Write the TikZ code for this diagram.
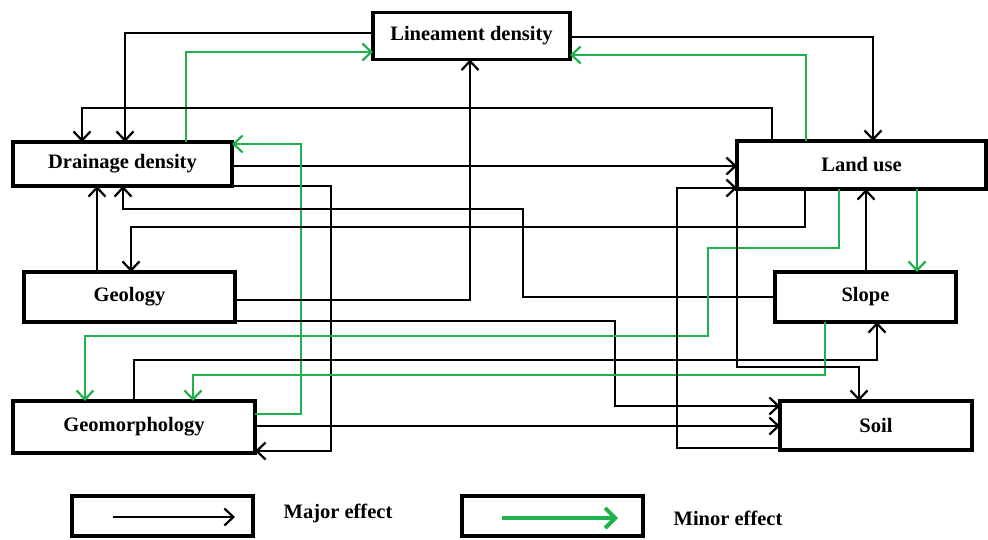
\documentclass[tikz,border=0pt]{standalone}
\usepackage{fontspec}
\setmainfont{Liberation Serif}
\usetikzlibrary{arrows.meta}
\definecolor{mygreen}{RGB}{30,178,76}
\begin{document}
\begin{tikzpicture}[x=1pt,y=-1pt,
  box/.style={draw, line width=3.4pt, inner sep=0pt, outer sep=0pt,
    font=\bfseries\fontsize{20.5}{24}\selectfont},
  maj/.style={line width=2.2pt, line join=miter,
    -{Straight Barb[length=9pt,width=17pt,line width=2.2pt]}},
  mn/.style={maj, draw=mygreen},
  lbl/.style={font=\bfseries\fontsize{20.5}{24}\selectfont, inner sep=0pt}]
\useasboundingbox (0,0) rectangle (988,539);
% nodes
\node[box, minimum width=197pt, minimum height=47pt] (ld) at (471.5,36) {Lineament density};
\node[box, minimum width=219pt, minimum height=44pt] (dd) at (122.5,164) {Drainage density};
\node[box, minimum width=249pt, minimum height=48pt] (lu) at (861.5,165) {Land use};
\node[box, minimum width=211pt, minimum height=50pt] (geo) at (129.5,297) {Geology};
\node[box, minimum width=181pt, minimum height=50pt] (sl) at (865.5,297) {Slope};
\node[box, minimum width=242pt, minimum height=52pt] (gm) at (134,427) {Geomorphology};
\node[box, minimum width=192pt, minimum height=49pt] (soil) at (876,425.5) {Soil};
% connectors
\draw[maj] (ld.west |- 0,33) -- (125,33) -- (125,0 |- dd.north);
\draw[mn] (186,0 |- dd.north) -- (186,52) -- (ld.west |- 0,52);
\draw[maj] (772,0 |- lu.north) -- (772,108) -- (82,108) -- (82,0 |- dd.north);
\draw[maj] (ld.east |- 0,37) -- (873,37) -- (873,0 |- lu.north);
\draw[mn] (806,0 |- lu.north) -- (806,55) -- (ld.east |- 0,55);
\draw[maj] (dd.east |- 0,166) -- (lu.west |- 0,166);
\draw[maj] (dd.east |- 0,186) -- (331,186) -- (331,451) -- (gm.east |- 0,451);
\draw[mn] (gm.east |- 0,414) -- (301,414) -- (301,144) -- (dd.east |- 0,144);
\draw[maj] (sl.west) -- (523,297) -- (523,209) -- (123,209) -- (123,0 |- dd.south);
\draw[maj] (805,0 |- lu.south) -- (805,227) -- (131,227) -- (131,0 |- geo.north);
\draw[maj] (97,0 |- geo.north) -- (97,0 |- dd.south);
\draw[maj] (geo.east |- 0,300) -- (470,300) -- (470,0 |- ld.south);
\draw[maj] (geo.east |- 0,321) -- (615,321) -- (615,406) -- (soil.west |- 0,406);
\draw[mn] (839,0 |- lu.south) -- (839,248) -- (708,248) -- (708,336) -- (85,336) -- (85,0 |- gm.north);
\draw[maj] (134,0 |- gm.north) -- (134,360) -- (877,360) -- (877,0 |- sl.south);
\draw[mn] (825,0 |- sl.south) -- (825,375) -- (193,375) -- (193,0 |- gm.north);
\draw[maj] (737,0 |- lu.south) -- (737,367) -- (859,367) -- (859,0 |- soil.north);
\draw[maj] (soil.west |- 0,448) -- (677,448) -- (677,188) -- (lu.west |- 0,188);
\draw[maj] (gm.east |- 0,426) -- (soil.west |- 0,426);
\draw[maj] (866,0 |- sl.north) -- (866,0 |- lu.south);
\draw[mn] (917,0 |- lu.south) -- (917,0 |- sl.north);
% legend
\node[box, minimum width=181pt, minimum height=40pt] (lg1) at (162.5,516) {};
\node[box, minimum width=181pt, minimum height=40pt] (lg2) at (552.5,516) {};
\coordinate (a1s) at (113,517);
\coordinate (a1e) at (235,517);
\coordinate (a2s) at (502,518);
\coordinate (a2e) at (618,518);
\draw[maj] (a1s) -- (a1e);
\draw[draw=mygreen, line width=4pt, -{Straight Barb[length=10pt,width=20pt,line width=4pt]}] (a2s) -- (a2e);
\node[lbl] (mj) at (338,513) {Major effect};
\node[lbl] (mi) at (728,518) {Minor effect};
\end{tikzpicture}
\end{document}
